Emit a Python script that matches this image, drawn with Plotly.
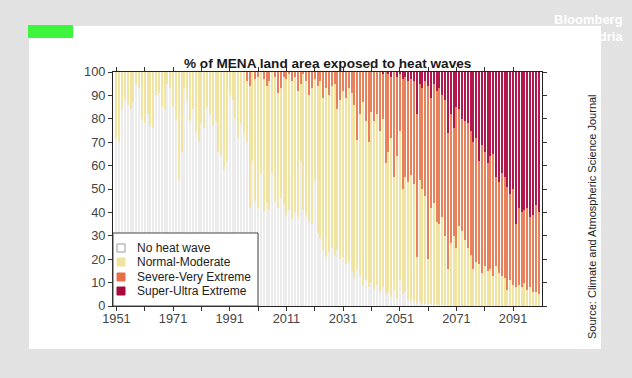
import plotly.graph_objects as go

# ---------------- data ----------------
years = list(range(1951, 2101))

no_heat_wave = [
    72, 70, 84, 88, 86, 84, 87, 95, 93, 80,      # 1951-1960
    78, 82, 77, 76, 90, 91, 85, 84, 95, 93,      # 1961-1970
    85, 80, 54, 66, 93, 88, 79, 84, 75, 70,      # 1971-1980
    78, 76, 85, 82, 77, 79, 66, 64, 58, 62,      # 1981-1990
    90, 88, 80, 72, 78, 74, 70, 42, 62, 45,      # 1991-2000
    42, 57, 40, 44, 41, 57, 45, 42, 46, 43,      # 2001-2010
    39, 41, 37, 40, 38, 62, 41, 39, 36, 35,      # 2011-2020
    54, 31, 29, 24, 21, 23, 25, 22, 24, 20,      # 2021-2030
    21, 18, 19, 15, 12, 16, 13, 9, 11, 8,        # 2031-2040
    10, 7, 9, 6, 8, 5, 6, 4, 7, 3,               # 2041-2050
    11, 5, 6, 3, 2, 2, 1, 2, 1, 1,               # 2051-2060
    1, 1, 0.5, 1, 0.5, 0.5, 0.5, 0.5, 0, 0,      # 2061-2070
    0, 0, 0, 0, 0, 0, 0, 0, 0, 0,                # 2071-2080
    0, 0, 0, 0, 0, 0, 0, 0, 0, 0,                # 2081-2090
    0, 0, 0, 0, 0, 0, 0, 0, 0, 0,                # 2091-2100
]

normal_moderate = [
    28, 30, 16, 12, 14, 16, 13, 5, 7, 20,
    22, 18, 23, 24, 10, 9, 15, 16, 5, 7,
    15, 20, 46, 34, 7, 12, 21, 16, 25, 30,
    22, 24, 15, 18, 23, 21, 34, 36, 42, 38,
    10, 12, 20, 28, 22, 26, 26, 52, 38, 52,
    56, 43, 57, 50, 55, 43, 53, 49, 47, 55,
    58, 58, 59, 58, 54, 33, 58, 57, 54, 58,
    43, 63, 67, 65, 72, 67, 69, 73, 60, 68,
    71, 71, 74, 76, 74, 55, 69, 78, 68, 62,
    73, 72, 73, 69, 72, 56, 60, 68, 48, 61,
    64, 45, 49, 50, 54, 50, 20, 52, 49, 46,
    19, 41, 43.5, 35, 34.5, 37.5, 29.5, 15.5, 27, 30,
    25, 34, 32, 28, 25, 22, 16, 19, 18, 14,
    17, 15, 16, 13, 17, 14, 13, 12, 7, 11,
    9, 8, 9, 8, 10, 7, 8, 6, 6, 5,
]

severe_very_extreme = [
    0, 0, 0, 0, 0, 0, 0, 0, 0, 0,
    0, 0, 0, 0, 0, 0, 0, 0, 0, 0,
    0, 0, 0, 0, 0, 0, 0, 0, 0, 0,
    0, 0, 0, 0, 0, 0, 0, 0, 0, 0,
    0, 0, 0, 0, 0, 0, 4, 6, 0, 3,
    2, 0, 3, 6, 4, 0, 2, 9, 7, 2,
    3, 1, 4, 2, 8, 5, 1, 4, 10, 7,
    3, 6, 4, 11, 7, 10, 6, 5, 16, 12,
    8, 11, 7, 9, 14, 29, 18, 13, 21, 30,
    17, 21, 18, 25, 19, 39, 33, 26, 45, 34,
    24, 47, 43, 43, 41, 44, 61, 41, 43, 49,
    74, 47, 51, 56, 58, 52, 58, 58, 55, 46,
    60, 50, 48, 51, 53, 53, 54, 53, 44, 55,
    49, 46, 48, 52, 38, 39, 44, 43, 44, 37,
    41, 27, 33, 32, 31, 35, 30, 33, 37, 35,
]

super_ultra_extreme = [
    0, 0, 0, 0, 0, 0, 0, 0, 0, 0,
    0, 0, 0, 0, 0, 0, 0, 0, 0, 0,
    0, 0, 0, 0, 0, 0, 0, 0, 0, 0,
    0, 0, 0, 0, 0, 0, 0, 0, 0, 0,
    0, 0, 0, 0, 0, 0, 0, 0, 0, 0,
    0, 0, 0, 0, 0, 0, 0, 0, 0, 0,
    0, 0, 0, 0, 0, 0, 0, 0, 0, 0,
    0, 0, 0, 0, 0, 0, 0, 0, 0, 0,
    0, 0, 0, 0, 0, 0, 0, 0, 0, 0,
    0, 0, 0, 0, 1, 0, 1, 2, 0, 2,
    1, 3, 2, 4, 3, 4, 18, 5, 7, 4,
    6, 11, 5, 8, 7, 10, 12, 26, 18, 24,
    15, 16, 20, 21, 22, 25, 30, 28, 38, 31,
    34, 39, 36, 35, 45, 47, 43, 45, 49, 52,
    50, 65, 58, 60, 59, 58, 62, 61, 57, 60,
]

series_names = ["No heat wave", "Normal-Moderate", "Severe-Very Extreme", "Super-Ultra Extreme"]
series_values = [no_heat_wave, normal_moderate, severe_very_extreme, super_ultra_extreme]
series_colors = ["#ececec", "#f1e4a3", "#e8825c", "#b3184c"]
legend_swatch_colors = ["#ffffff", "#efe39d", "#e76e49", "#a6093a"]

x_tick_years = [1951, 1961, 1971, 1981, 1991, 2001, 2011, 2021, 2031, 2041, 2051, 2061, 2071, 2081, 2091]
x_tick_labels = ["1951", "", "1971", "", "1991", "", "2011", "", "2031", "", "2051", "", "2071", "", "2091"]
y_ticks = [0, 10, 20, 30, 40, 50, 60, 70, 80, 90, 100]

title_text = "% of MENA land area exposed to heat waves"
source_text = "Source: Climate and Atmospheric Science Journal"

# ---------------- figure ----------------
W, H = 632, 378
L, R, T, B = 113, 90, 72, 72
pw, ph = W - L - R, H - T - B


def px_x(px):
    return (px - L) / pw


def px_y(py):
    return (H - B - py) / ph


FONT = "Liberation Sans, Arial, sans-serif"

fig = go.Figure()
for name, vals, col in zip(series_names, series_values, series_colors):
    fig.add_trace(go.Bar(x=years, y=vals, name=name, showlegend=False,
                         marker=dict(color=col, line=dict(width=0))))

shapes = [
    dict(type="rect", xref="paper", yref="paper", layer="below",
         x0=px_x(29), x1=px_x(601), y0=px_y(349), y1=px_y(26),
         fillcolor="white", line=dict(width=0)),
    dict(type="rect", xref="paper", yref="paper", layer="above",
         x0=px_x(28), x1=px_x(73), y0=px_y(38), y1=px_y(25),
         fillcolor="#3cf53c", line=dict(width=0)),
    # legend box
    dict(type="rect", xref="paper", yref="paper", layer="above",
         x0=px_x(113), x1=px_x(258), y0=px_y(306), y1=px_y(233),
         fillcolor="white", line=dict(color="#444", width=1)),
]
annotations = [
    dict(text="<b>" + title_text + "</b>", xref="paper", yref="paper",
         x=0.5, y=px_y(64), xanchor="center", yanchor="middle",
         showarrow=False, font=dict(family=FONT, size=13.6, color="#1a1a1a")),
    dict(text=source_text, xref="paper", yref="paper",
         x=px_x(592), y=px_y(217), xanchor="center", yanchor="middle",
         textangle=-90, showarrow=False,
         font=dict(family=FONT, size=11, color="#222")),
    dict(text="<b>Bloomberg</b><br><b>Adria</b>", xref="paper", yref="paper",
         x=px_x(625), y=px_y(28), xanchor="right", yanchor="middle",
         align="right", showarrow=False,
         font=dict(family=FONT, size=13, color="white")),
]

legend_rows_py = [248, 262, 277, 291]
for name, sw, py in zip(series_names, legend_swatch_colors, legend_rows_py):
    shapes.append(dict(type="rect", xref="paper", yref="paper", layer="above",
                       x0=px_x(117), x1=px_x(125), y0=px_y(py + 4), y1=px_y(py - 4),
                       fillcolor=sw, line=dict(color="#999" if sw == "#ffffff" else sw, width=1)))
    annotations.append(dict(text=name, xref="paper", yref="paper",
                            x=px_x(135), y=px_y(py), xanchor="left", yanchor="middle",
                            showarrow=False, font=dict(family=FONT, size=12, color="#222")))

fig.update_layout(
    width=W, height=H, autosize=False,
    margin=dict(l=L, r=R, t=T, b=B, pad=0),
    paper_bgcolor="#e2e2e2",
    plot_bgcolor="white",
    barmode="stack",
    bargap=0.25,
    font=dict(family=FONT, size=12, color="#333"),
    showlegend=False,
    hovermode=False,
    xaxis=dict(range=[1949.8, 2101.2], tickmode="array",
               tickvals=x_tick_years, ticktext=x_tick_labels,
               ticks="outside", ticklen=4, tickcolor="#333",
               showline=True, linecolor="#222", linewidth=1, mirror="ticks",
               showgrid=False, zeroline=False, ticklabelstandoff=-3,
               tickfont=dict(size=12.8, color="#444")),
    yaxis=dict(range=[0, 100], tickmode="array", tickvals=y_ticks,
               ticks="outside", ticklen=4, tickcolor="#333",
               showline=True, linecolor="#222", linewidth=1, mirror="ticks",
               showgrid=False, zeroline=False,
               tickfont=dict(size=12.8, color="#444")),
    shapes=shapes,
    annotations=annotations,
)

fig.write_html("out.html", config={"displayModeBar": False},
               post_script="document.body.style.margin='0';document.body.style.overflow='hidden';")
